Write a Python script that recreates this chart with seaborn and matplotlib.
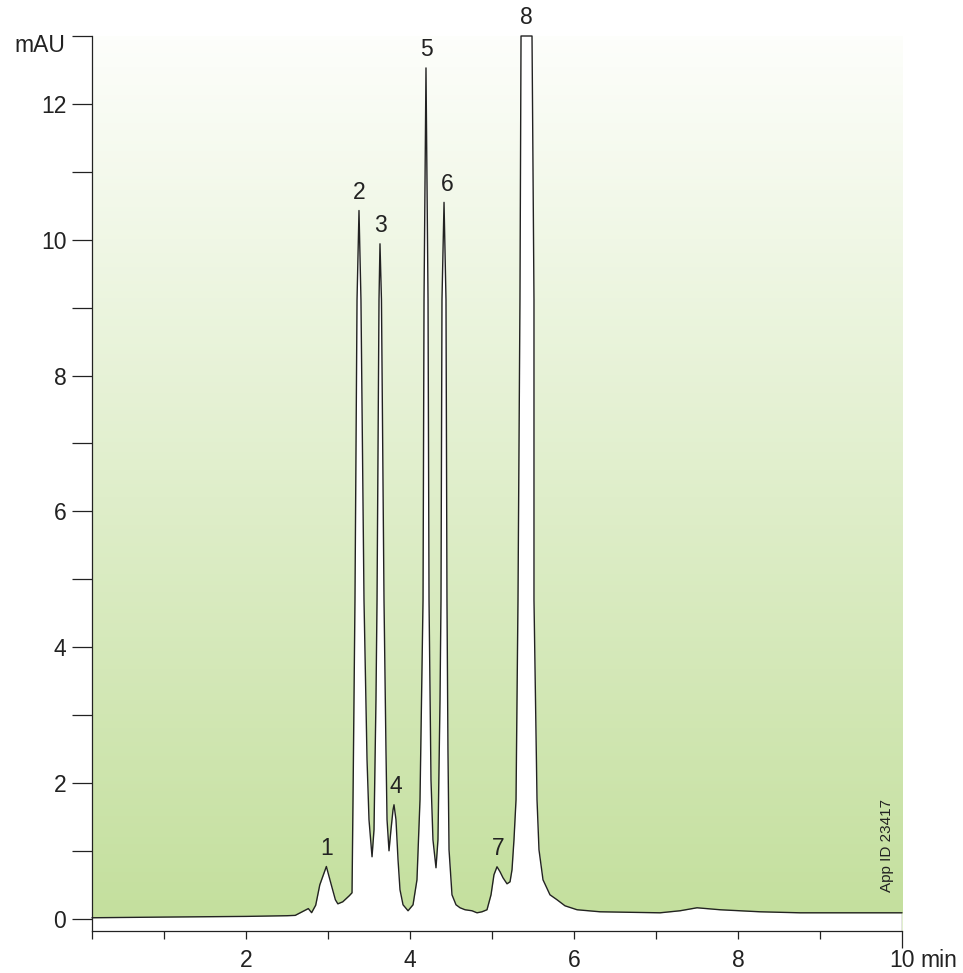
import numpy as np
import pandas as pd
import matplotlib
matplotlib.use("Agg")
import matplotlib.pyplot as plt
from matplotlib.colors import LinearSegmentedColormap
import seaborn as sns

# chromatogram trace (min, mAU); peak 8 is off scale
time_min = [0.122, 1.0, 2.0, 2.5, 2.60, 2.68, 2.76, 2.80, 2.85, 2.90, 2.98, 3.04,
            3.09, 3.12, 3.18, 3.26, 3.293, 3.305, 3.329, 3.354, 3.378, 3.402,
            3.439, 3.476, 3.500, 3.537, 3.561, 3.585, 3.598, 3.622, 3.634, 3.652,
            3.683, 3.707, 3.720, 3.744, 3.768, 3.793, 3.805, 3.829, 3.854, 3.878,
            3.915, 3.976, 4.037, 4.085, 4.122, 4.159, 4.171, 4.195, 4.220, 4.232,
            4.256, 4.280, 4.317, 4.341, 4.366, 4.378, 4.390, 4.415, 4.439, 4.451,
            4.463, 4.476, 4.512, 4.561, 4.610, 4.671, 4.756, 4.817, 4.878, 4.939,
            4.988, 5.024, 5.061, 5.098, 5.134, 5.183, 5.220, 5.244, 5.268, 5.293,
            5.305, 5.317, 5.341, 5.354, 5.488, 5.512, 5.512, 5.549, 5.573, 5.622,
            5.707, 5.793, 5.890, 6.037, 6.317, 7.049, 7.293, 7.500, 7.780, 8.268,
            8.756, 9.366, 10.0]
signal_mau = [0.015, 0.025, 0.035, 0.045, 0.05, 0.10, 0.15, 0.09, 0.20, 0.50, 0.77, 0.50,
              0.28, 0.22, 0.25, 0.34, 0.383, 1.753, 4.698, 9.116, 10.43, 9.116,
              4.698, 2.342, 1.458, 0.913, 1.311, 3.225, 4.698, 9.116, 9.94, 9.116,
              4.698, 2.489, 1.458, 1.001, 1.311, 1.605, 1.679, 1.458, 0.869, 0.427,
              0.206, 0.118, 0.206, 0.574, 1.753, 4.698, 9.116, 12.53, 9.116, 4.698,
              2.047, 1.163, 0.751, 1.163, 3.225, 4.698, 9.116, 10.55, 9.116, 4.698,
              2.489, 1.016, 0.353, 0.206, 0.162, 0.133, 0.118, 0.088, 0.103, 0.133,
              0.353, 0.648, 0.766, 0.692, 0.604, 0.515, 0.545, 0.722, 1.163, 1.753,
              3.225, 4.698, 9.116, 13.0, 13.0, 9.116, 4.698, 1.753, 1.016, 0.574,
              0.353, 0.280, 0.191, 0.133, 0.103, 0.088, 0.118, 0.162, 0.133, 0.103,
              0.088, 0.088, 0.088]

peak_labels = ["1", "2", "3", "4", "5", "6", "7", "8"]
peak_times = [2.98, 3.378, 3.634, 3.805, 4.195, 4.415, 5.061, 5.42]
peak_tops = [0.77, 10.43, 9.94, 1.68, 12.53, 10.55, 0.77, 13.0]
peak_dx = [0, 0, 0, 1, 0, 2, 1, 0]

x_major = [2, 4, 6, 8, 10]
x_minor = [0.122, 1, 3, 5, 7, 9]
y_major = [0, 2, 4, 6, 8, 10, 12]
y_minor = [1, 3, 5, 7, 9, 11, 13]

XLIM = (0.122, 10.0)
YLIM = (-0.18, 13.0)

sns.set_theme(style="ticks")
plt.rcParams["font.family"] = ["Liberation Sans", "DejaVu Sans"]
ink = "#222222"

df = pd.DataFrame({"time": time_min, "mAU": signal_mau})

fig = plt.figure(figsize=(9.63, 9.73), dpi=100)
ax = fig.add_axes([92 / 963, 42 / 973, 810 / 963, 895 / 973])

# green background, pale at the top, stronger at the bottom
green = LinearSegmentedColormap.from_list("bg", ["#c3df9c", "#fdfefb"])
grad = np.linspace(0, 1, 256).reshape(-1, 1)
ax.imshow(grad, extent=[XLIM[0], XLIM[1], YLIM[0], YLIM[1]], origin="lower",
          aspect="auto", cmap=green, zorder=0)

# white below the trace
ax.fill_between(df["time"], df["mAU"], YLIM[0], color="white", lw=0, zorder=1)
sns.lineplot(data=df, x="time", y="mAU", ax=ax, color=ink, lw=1.0,
             estimator=None, sort=False, zorder=3)
ax.lines[-1].set_clip_on(False)
ax.vlines(time_min[-1], YLIM[0], signal_mau[-1], color=ink, lw=0.9, zorder=3)

ax.set_xlim(*XLIM)
ax.set_ylim(*YLIM)
ax.set_xlabel("")
ax.set_ylabel("")

ax.set_xticks(x_major)
ax.set_xticks(x_minor, minor=True)
ax.set_yticks(y_major)
ax.set_yticks(y_minor, minor=True)
ax.tick_params(axis="y", which="both", direction="out", length=14.5, width=0.9,
               color=ink, labelsize=16.5, pad=4, labelcolor=ink)
ax.tick_params(axis="x", which="both", direction="out", length=5.5, width=0.9,
               color=ink, labelsize=16.5, pad=7.5, labelcolor=ink)
ax.xaxis.get_major_ticks()[-1].tick1line.set_markersize(12.5)

sns.despine(ax=ax)
for side in ["left", "bottom"]:
    ax.spines[side].set_linewidth(0.9)
    ax.spines[side].set_color(ink)
    ax.spines[side].set_zorder(4)

# unit labels
ax.annotate("mAU", xy=(0, YLIM[1]), xycoords=("axes fraction", "data"),
            xytext=(-19.5, -6.5), textcoords="offset points",
            ha="right", va="center", fontsize=16.5, color=ink)
ax.annotate("min", xy=(XLIM[1], YLIM[0]), xycoords="data",
            xytext=(13.5, -21), textcoords="offset points",
            ha="left", va="center", fontsize=16.5, color=ink, annotation_clip=False)

# peak numbers
for lab, t, h, dx in zip(peak_labels, peak_times, peak_tops, peak_dx):
    ax.annotate(lab, xy=(t, h), xytext=(dx, 13), textcoords="offset points",
                ha="center", va="center", fontsize=16.5, color=ink,
                annotation_clip=False, zorder=5)

ax.text(0.981, 0.096, "App ID 23417", transform=ax.transAxes, rotation=90,
        ha="center", va="center", fontsize=11, color=ink, zorder=5)

fig.savefig("out.png", dpi=100)
